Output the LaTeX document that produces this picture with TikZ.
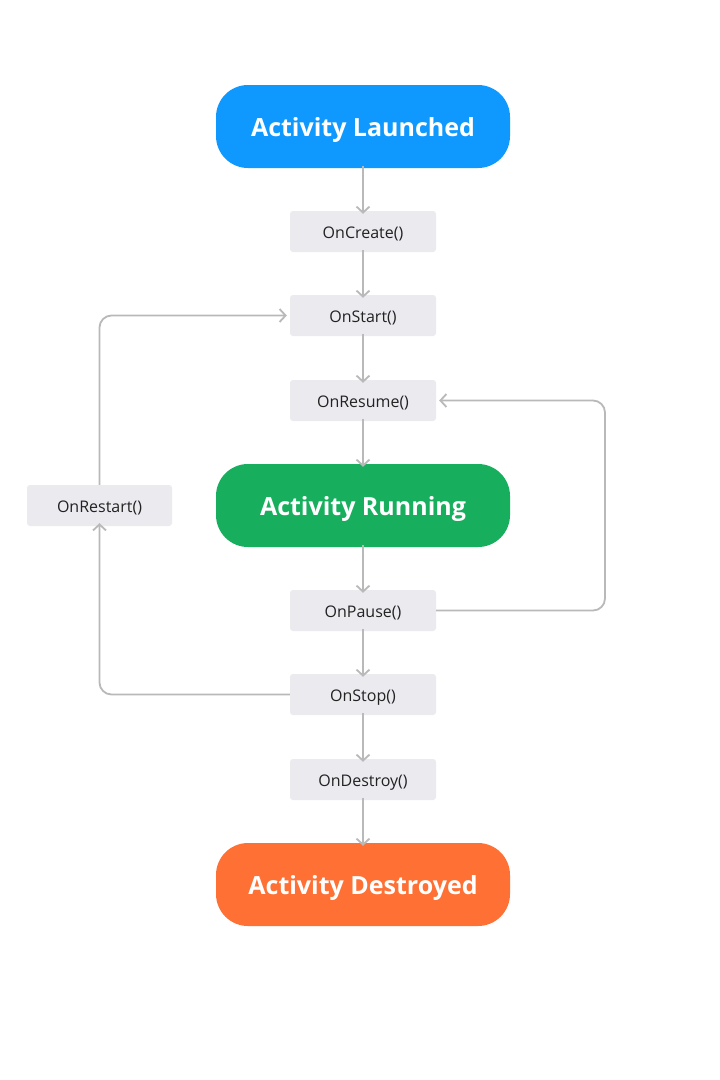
\documentclass[tikz,border=0pt]{standalone}
\usepackage{fontspec}
\setmainfont{Open Sans}
\usetikzlibrary{arrows.meta}
\definecolor{cblue}{HTML}{0F99FF}
\definecolor{cgreen}{HTML}{17AF5E}
\definecolor{corange}{HTML}{FF7034}
\definecolor{cbox}{HTML}{EBEAEF}
\definecolor{cline}{HTML}{B9B9B9}
\definecolor{ctext}{HTML}{222222}
\begin{document}
\begin{tikzpicture}[x=1pt,y=-1pt,
  state/.style={rounded corners=32pt, minimum width=294pt, minimum height=83pt, inner sep=0pt, text=white, text height=20pt, text depth=0pt, font=\bfseries\fontsize{25}{28}\selectfont},
  fn/.style={fill=cbox, rounded corners=3pt, minimum width=146pt, minimum height=41pt, inner sep=0pt, text=ctext, text height=13.5pt, text depth=0pt, font=\fontsize{16}{18}\selectfont},
  conn/.style={draw=cline, line width=1.8pt, -{Straight Barb[length=6pt,width=13pt,line width=1.8pt]}, rounded corners=12pt}]
\useasboundingbox (0,0) rectangle (720,1080);
\fill[white] (0,0) rectangle (720,1080);
\node[state, fill=cblue] (launch) at (363,126.5) {Activity Launched};
\node[fn] (create) at (363,231.5) {OnCreate()};
\node[fn] (start) at (363,315.5) {OnStart()};
\node[fn] (resume) at (363,400.5) {OnResume()};
\node[state, fill=cgreen] (run) at (363,505.5) {Activity Running};
\node[fn] (pause) at (363,610.5) {OnPause()};
\node[fn] (stop) at (363,694.5) {OnStop()};
\node[fn] (destroy) at (363,779.5) {OnDestroy()};
\node[state, fill=corange] (dest) at (363,884.5) {Activity Destroyed};
\node[fn, minimum width=145pt] (restart) at (99.5,505.5) {OnRestart()};
\foreach \a/\b in {launch/create,create/start,start/resume,resume/run,run/pause,pause/stop,stop/destroy,destroy/dest}
  \draw[conn] ([yshift=2pt]\a.south) -- ([yshift=-3pt]\b.north);
\draw[conn] (stop.west) -| ([yshift=3pt]restart.south);
\draw[conn] (restart.north) |- ([xshift=-3pt]start.west);
\draw[conn] (pause.east) -- (605,610.5) -- (605,400.5) -- ([xshift=3pt]resume.east);
\end{tikzpicture}
\end{document}
